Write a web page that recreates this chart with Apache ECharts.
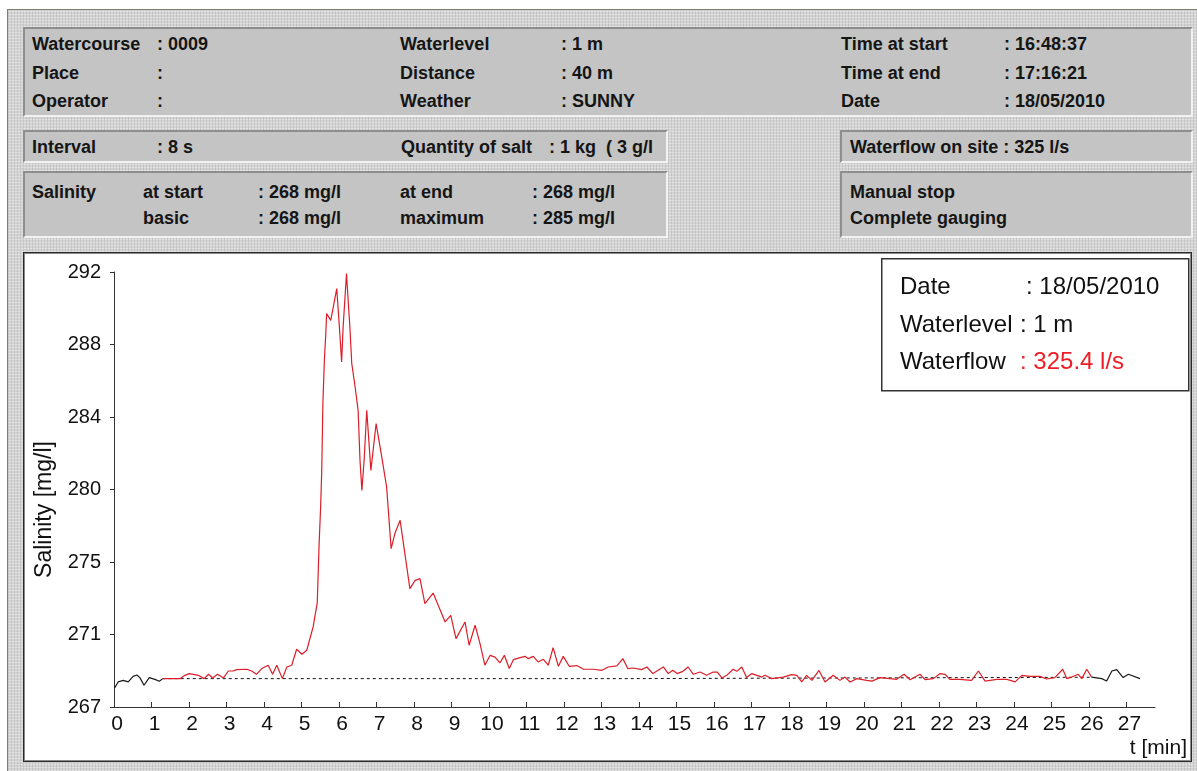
<!DOCTYPE html>
<html>
<head>
<meta charset="utf-8">
<title>Salinity gauging</title>
<script src="https://cdn.jsdelivr.net/npm/echarts@6/dist/echarts.min.js"></script>
<style>
  html, body { margin: 0; padding: 0; background: #fff; }
  body { width: 1197px; height: 771px; position: relative; overflow: hidden;
         font-family: 'Liberation Sans', Arial, sans-serif; }
  #frame { position: absolute; left: 7px; top: 9px; right: 0; bottom: 0;
           border-top: 1px solid #7d7d6e; border-left: 1px solid #7d7d6e;
           background-color: #d3d3d3;
           background-image:
             repeating-linear-gradient(90deg, rgba(150,150,150,0.25) 0 1px, transparent 1px 3px),
             repeating-linear-gradient(0deg, rgba(255,255,255,0.35) 0 1px, transparent 1px 3px); }
  .panel { position: absolute; background: #c4c4c4; box-sizing: border-box;
           border-top: 2px solid #8e8e8e; border-left: 2px solid #8e8e8e;
           border-bottom: 2px solid #f2f2f2; border-right: 2px solid #f2f2f2; }
  .t { position: absolute; font-size: 18px; font-weight: bold; color: #151515;
       line-height: 20px; white-space: pre; }
  #chart { position: absolute; left: 23px; top: 252px; width: 1169px; height: 510px; background: #fff; }
  #chartBorder { position: absolute; left: 23px; top: 252px; width: 1169px; height: 510px;
                 box-sizing: border-box; border: 1px solid #2a2a2a;
                 box-shadow: inset 0 0 0 1px #8a8a8a; pointer-events: none; }
</style>
</head>
<body>
<div id="frame"></div>

<div class="panel" style="left:23px;top:27px;width:1170px;height:90px"></div>
<div class="panel" style="left:23px;top:130px;width:645px;height:33px"></div>
<div class="panel" style="left:23px;top:171px;width:645px;height:67px"></div>
<div class="panel" style="left:840px;top:130px;width:353px;height:33px"></div>
<div class="panel" style="left:840px;top:171px;width:353px;height:67px"></div>

<span class="t" style="left:32px;top:34px">Watercourse</span>
<span class="t" style="left:157px;top:34px">: 0009</span>
<span class="t" style="left:32px;top:63px">Place</span>
<span class="t" style="left:157px;top:63px">:</span>
<span class="t" style="left:32px;top:91px">Operator</span>
<span class="t" style="left:157px;top:91px">:</span>

<span class="t" style="left:400px;top:34px">Waterlevel</span>
<span class="t" style="left:561px;top:34px">: 1 m</span>
<span class="t" style="left:400px;top:63px">Distance</span>
<span class="t" style="left:561px;top:63px">: 40 m</span>
<span class="t" style="left:400px;top:91px">Weather</span>
<span class="t" style="left:561px;top:91px">: SUNNY</span>

<span class="t" style="left:841px;top:34px">Time at start</span>
<span class="t" style="left:1004px;top:34px">: 16:48:37</span>
<span class="t" style="left:841px;top:63px">Time at end</span>
<span class="t" style="left:1004px;top:63px">: 17:16:21</span>
<span class="t" style="left:841px;top:91px">Date</span>
<span class="t" style="left:1004px;top:91px">: 18/05/2010</span>

<span class="t" style="left:32px;top:137px">Interval</span>
<span class="t" style="left:157px;top:137px">: 8 s</span>
<span class="t" style="left:401px;top:137px">Quantity of salt</span>
<span class="t" style="left:549px;top:137px">: 1 kg  ( 3 g/l</span>
<span class="t" style="left:850px;top:137px">Waterflow on site : 325 l/s</span>

<span class="t" style="left:32px;top:182px">Salinity</span>
<span class="t" style="left:143px;top:182px">at start</span>
<span class="t" style="left:258px;top:182px">: 268 mg/l</span>
<span class="t" style="left:400px;top:182px">at end</span>
<span class="t" style="left:532px;top:182px">: 268 mg/l</span>
<span class="t" style="left:143px;top:208px">basic</span>
<span class="t" style="left:258px;top:208px">: 268 mg/l</span>
<span class="t" style="left:400px;top:208px">maximum</span>
<span class="t" style="left:532px;top:208px">: 285 mg/l</span>
<span class="t" style="left:850px;top:182px">Manual stop</span>
<span class="t" style="left:850px;top:208px">Complete gauging</span>

<div id="chart"></div>
<div id="chartBorder"></div>

<script>
// time in minutes, salinity in mg/l

// before injection (black)
var startT = [0.02, 0.11, 0.25, 0.38, 0.51, 0.61, 0.69, 0.80, 0.94, 1.09, 1.21, 1.30];
var startV = [268.11, 268.44, 268.53, 268.44, 268.76, 268.84, 268.69, 268.25, 268.69, 268.59, 268.48, 268.63];

// gauging (red)
var gaugeT = [1.30, 1.76, 1.89, 2.01, 2.25, 2.40, 2.52, 2.63, 2.76, 2.92, 3.05, 3.18, 3.27, 3.54, 3.67, 3.80, 3.94,
  4.11, 4.23, 4.34, 4.49, 4.61, 4.74, 4.87, 5.01, 5.14, 5.31, 5.42, 5.47, 5.51, 5.54, 5.57, 5.61, 5.65, 5.67, 5.78,
  5.94, 6.01, 6.07, 6.11, 6.20, 6.25, 6.29, 6.34, 6.43, 6.51, 6.56, 6.61, 6.67, 6.74, 6.85, 6.99, 7.14, 7.27, 7.39,
  7.49, 7.63, 7.89, 8.03, 8.16, 8.29, 8.51, 8.83, 8.98, 9.12, 9.36, 9.47, 9.63, 9.76, 9.89, 10.03, 10.16, 10.29,
  10.41, 10.54, 10.65, 10.83, 10.96, 11.05, 11.18, 11.31, 11.45, 11.58, 11.71, 11.85, 11.98, 12.14, 12.34, 12.51,
  12.78, 13.01, 13.18, 13.41, 13.57, 13.70, 13.85, 14.07, 14.21, 14.37, 14.65, 14.78, 14.90, 15.02, 15.17, 15.31,
  15.45, 15.63, 15.80, 15.98, 16.09, 16.21, 16.34, 16.51, 16.61, 16.74, 16.87, 17.01, 17.14, 17.27, 17.36, 17.54,
  17.85, 18.07, 18.21, 18.34, 18.47, 18.61, 18.80, 18.96, 19.18, 19.36, 19.49, 19.63, 19.81, 20.07, 20.21, 20.43,
  20.69, 20.87, 21.07, 21.23, 21.49, 21.63, 21.85, 22.03, 22.16, 22.29, 22.56, 22.87, 23.05, 23.23, 23.54, 23.81,
  24.03, 24.21, 24.43, 24.69, 24.87, 25.09, 25.30, 25.41, 25.54, 25.71, 25.81, 25.94, 26.07];
var gaugeV = [268.63, 268.63, 268.82, 268.92, 268.82, 268.63, 268.88, 268.67, 268.88, 268.67, 269.07, 269.07, 269.15,
  269.17, 269.07, 268.88, 269.21, 269.40, 268.88, 269.40, 268.63, 269.30, 269.40, 270.32, 270.03, 270.26, 271.60,
  273.00, 276.39, 278.49, 280.60, 284.44, 286.93, 288.55, 289.61, 289.22, 291.05, 288.84, 286.83, 288.84, 291.91,
  290.18, 288.84, 286.74, 285.39, 284.05, 281.18, 279.45, 281.18, 284.05, 280.60, 283.29, 281.37, 279.64, 276.10,
  276.97, 277.73, 273.80, 274.28, 274.38, 272.94, 273.55, 271.89, 272.27, 270.93, 271.89, 270.55, 271.70, 270.64,
  269.40, 269.97, 269.87, 269.53, 269.97, 269.21, 269.72, 269.84, 269.91, 269.78, 269.91, 269.59, 269.74, 269.40,
  270.41, 269.34, 269.91, 269.34, 269.38, 269.18, 269.17, 269.11, 269.30, 269.36, 269.78, 269.21, 269.24, 269.15,
  269.30, 268.92, 269.30, 268.92, 269.11, 268.92, 269.05, 269.30, 268.88, 269.01, 268.82, 269.01, 269.01, 268.67,
  268.82, 269.17, 269.05, 269.30, 268.69, 268.92, 268.82, 268.72, 268.82, 268.63, 268.72, 268.86, 268.82, 268.44,
  268.82, 268.53, 269.10, 268.44, 268.82, 268.53, 268.72, 268.44, 268.63, 268.53, 268.49, 268.69, 268.63, 268.59,
  268.88, 268.57, 268.88, 268.57, 268.63, 268.92, 268.88, 268.59, 268.59, 268.53, 269.07, 268.49, 268.59, 268.59,
  268.44, 268.82, 268.76, 268.76, 268.61, 268.69, 269.17, 268.63, 268.72, 268.88, 268.63, 269.17, 268.72];

// after stop (black)
var endT = [26.07, 26.34, 26.47, 26.61, 26.74, 26.91, 27.05, 27.36];
var endV = [268.72, 268.63, 268.49, 269.07, 269.15, 268.69, 268.88, 268.63];

// basic salinity (dashed)
var baseT = [1.30, 13.57, 13.57, 26.07];
var baseV = [268.63, 268.63, 268.71, 268.71];

var xTicks = [0, 1, 2, 3, 4, 5, 6, 7, 8, 9, 10, 11, 12, 13, 14, 15, 16, 17, 18, 19, 20, 21, 22, 23, 24, 25, 26, 27];
var yTickLabels = ['267', '271', '275', '280', '284', '288', '292'];
var yTickValues = yTickLabels.map(function (s, i) { return 267 + i * 25 / 6; });

function pairs(t, v) {
  return t.map(function (x, i) { return [x, v[i]]; });
}

var FONT = "'Liberation Sans', Arial, sans-serif";
var LEG = '24px ' + FONT;
var chart = echarts.init(document.getElementById('chart'));

chart.setOption({
  animation: false,
  backgroundColor: '#fff',
  grid: { left: 91, top: 20, width: 1041, height: 435 },
  xAxis: {
    type: 'value',
    min: 0,
    max: 27.76,
    name: 't [min]',
    nameLocation: 'end',
    nameGap: 32,
    nameTextStyle: { fontFamily: FONT, fontSize: 21, color: '#111', align: 'right', verticalAlign: 'top', padding: [31, 0, 0, 0] },
    axisLine: { onZero: false, lineStyle: { color: '#333', width: 1 } },
    axisTick: { customValues: xTicks, inside: true, length: 5, lineStyle: { color: '#333' } },
    axisLabel: { customValues: xTicks, fontFamily: FONT, fontSize: 21, color: '#111', margin: 7, padding: [0, 0, 0, 6] },
    splitLine: { show: false }
  },
  yAxis: {
    type: 'value',
    min: 267,
    max: 292,
    name: 'Salinity [mg/l]',
    nameLocation: 'middle',
    nameGap: 58,
    nameTextStyle: { fontFamily: FONT, fontSize: 23, color: '#111', padding: [0, 40, 0, 0] },
    axisLine: { show: true, lineStyle: { color: '#333', width: 1 } },
    axisTick: { show: true, customValues: yTickValues, inside: false, length: 4, lineStyle: { color: '#333' } },
    axisLabel: {
      customValues: yTickValues, fontFamily: FONT, fontSize: 20, color: '#111', margin: 13,
      formatter: function (v) { return yTickLabels[Math.round((v - 267) * 6 / 25)]; }
    },
    splitLine: { show: false }
  },
  series: [
    { type: 'line', data: pairs(baseT, baseV), symbol: 'none', z: 1,
      lineStyle: { color: '#111', width: 1, type: [3, 3] } },
    { type: 'line', data: pairs(startT, startV), symbol: 'none', z: 2,
      lineStyle: { color: '#1a1a1a', width: 1.2 } },
    { type: 'line', data: pairs(gaugeT, gaugeV), symbol: 'none', z: 3,
      lineStyle: { color: '#dc1e28', width: 1.2 } },
    { type: 'line', data: pairs(endT, endV), symbol: 'none', z: 2,
      lineStyle: { color: '#1a1a1a', width: 1.2 } }
  ],
  graphic: [
    { type: 'rect', left: 858, top: 6, shape: { width: 307, height: 132 },
      style: { fill: '#fff', stroke: '#333', lineWidth: 1.5 }, z: 10 },
    { type: 'text', x: 877, y: 35, z: 11,
      style: { text: 'Date', font: LEG, fill: '#111', verticalAlign: 'middle' } },
    { type: 'text', x: 1003, y: 35, z: 11,
      style: { text: ': 18/05/2010', font: LEG, fill: '#111', verticalAlign: 'middle' } },
    { type: 'text', x: 877, y: 73, z: 11,
      style: { text: 'Waterlevel', font: LEG, fill: '#111', verticalAlign: 'middle' } },
    { type: 'text', x: 997, y: 73, z: 11,
      style: { text: ': 1 m', font: LEG, fill: '#111', verticalAlign: 'middle' } },
    { type: 'text', x: 877, y: 110, z: 11,
      style: { text: 'Waterflow', font: LEG, fill: '#111', verticalAlign: 'middle' } },
    { type: 'text', x: 997, y: 110, z: 11,
      style: { text: ': 325.4 l/s', font: LEG, fill: '#ee1c24', verticalAlign: 'middle' } }
  ]
});
</script>
</body>
</html>
